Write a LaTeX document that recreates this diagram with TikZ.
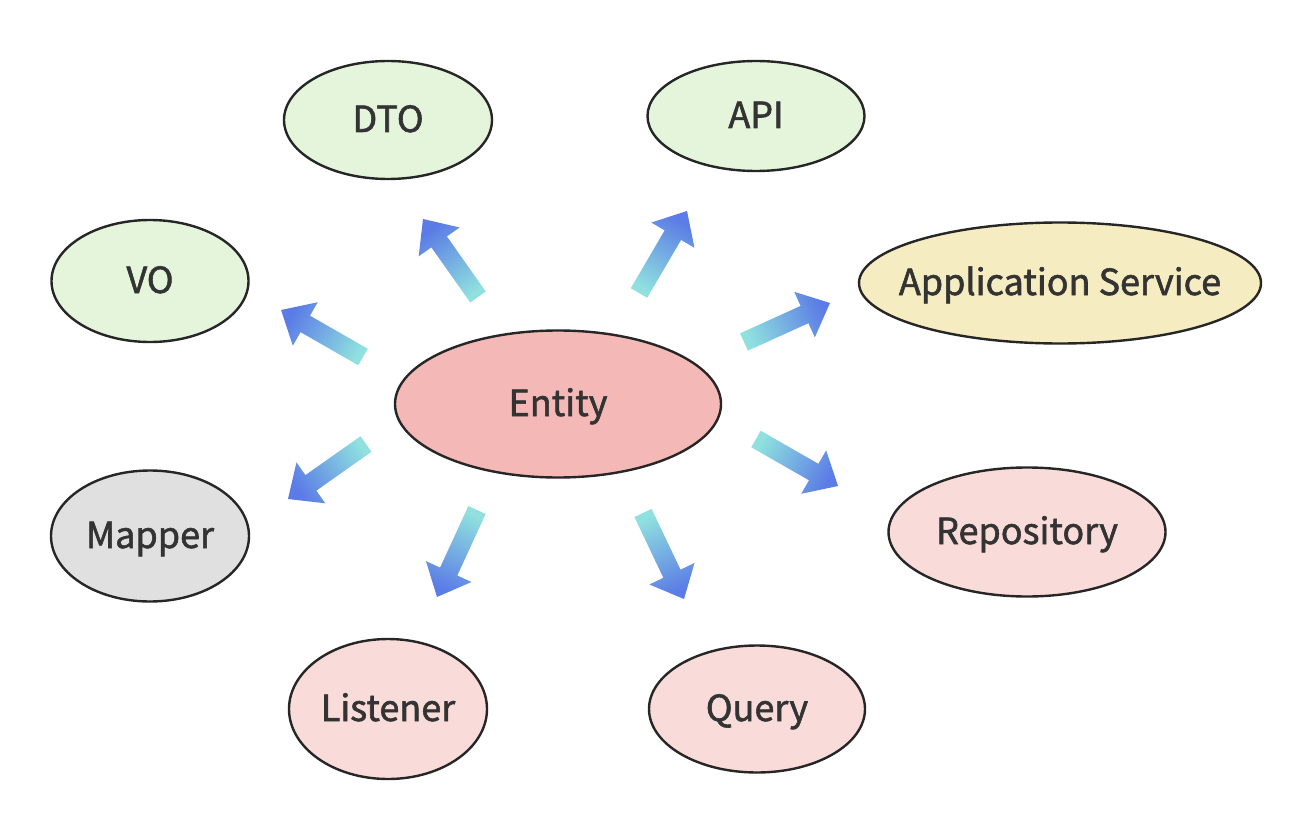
\documentclass[tikz,border=0pt]{standalone}
\usepackage{fontspec}
\setmainfont{Noto Sans CJK SC}[FakeBold=1.6]
\usepackage{tikz}
\usetikzlibrary{shapes,calc}

\definecolor{edgegray}{HTML}{262626}
\definecolor{textgray}{HTML}{333333}
\definecolor{greenfill}{HTML}{E4F5DC}
\definecolor{pinkfill}{HTML}{F9DCDA}
\definecolor{redfill}{HTML}{F4B9B7}
\definecolor{yellowfill}{HTML}{F5EDC1}
\definecolor{grayfill}{HTML}{E0E0E0}
\definecolor{flowcyan}{HTML}{8FE0DF}
\definecolor{flowblue}{HTML}{5B7BE6}

\begin{document}
\begin{tikzpicture}[x=1pt,y=-1pt]
    \newcommand{\fatarrow}[3]{
      \coordinate (#1m) at ($(#2)!28pt!(#1)$);
      \path[flow,shading angle=#3] ($(#1)!9.5pt!90:(#2)$) -- ($(#1m)!9.5pt!-90:(#1)$)
        -- ($(#1m)!25pt!-90:(#1)$) -- (#2) -- ($(#1m)!25pt!90:(#1)$)
        -- ($(#1m)!9.5pt!90:(#1)$) -- ($(#1)!9.5pt!-90:(#2)$) -- cycle;
    }
    
    \tikzstyle{flow}=[top color=flowblue,bottom color=flowcyan]
    \tikzstyle{snode}=[
      ellipse,
      draw=edgegray,
      line width=2.4pt,
      text=textgray,
      inner sep=0pt,
      text height=28pt,
      text depth=4pt,
      font=\fontsize{36}{40}\selectfont,
    ]
    \tikzstyle{green}=[snode,fill=greenfill]
    \tikzstyle{pink}=[snode,fill=pinkfill]
    
    \useasboundingbox (0,0) rectangle (1311,829);
    
    {
      \node[snode,fill=redfill,minimum width=326,minimum height=147] (ent) at (558,404) {Entity};
      
      \node[green,minimum width=208,minimum height=118] (dto) at (388,120) {DTO};
      \node[green,minimum width=217,minimum height=110] (api) at (756,116) {API};
      \node[green,minimum width=197,minimum height=122] (vo) at (150,281) {VO};
      \node[snode,fill=yellowfill,inner xsep=-22pt,minimum width=402,minimum height=121] (app) at (1060,283) {Application Service};
      
      \node[snode,fill=grayfill,minimum width=198,minimum height=131] (map) at (150,536) {Mapper};
      \node[pink,minimum width=277,minimum height=129] (repo) at (1027,532) {Repository};
      \node[pink,minimum width=198,minimum height=140] (lis) at (388,709) {Listener};
      \node[pink,minimum width=216,minimum height=127] (qry) at (757,709) {Query};
    }
    
    {
      \coordinate (t1) at (478,297); \coordinate (h1) at (423,219);
      \coordinate (t2) at (639,293); \coordinate (h2) at (687,211);
      \coordinate (t3) at (363,357); \coordinate (h3) at (281,310);
      \coordinate (t4) at (744,342); \coordinate (h4) at (830,303);
      \coordinate (t5) at (366,444); \coordinate (h5) at (288,499);
      \coordinate (t6) at (756,439); \coordinate (h6) at (838,486);
      \coordinate (t7) at (477,510); \coordinate (h7) at (437,597);
      \coordinate (t8) at (643,513); \coordinate (h8) at (684,599);
      
      \fatarrow{t1}{h1}{35}
      \fatarrow{t2}{h2}{-30}
      \fatarrow{t3}{h3}{60}
      \fatarrow{t4}{h4}{-66}
      \fatarrow{t5}{h5}{125}
      \fatarrow{t6}{h6}{-120}
      \fatarrow{t7}{h7}{155}
      \fatarrow{t8}{h8}{-155}
    }
\end{tikzpicture}
\end{document}
